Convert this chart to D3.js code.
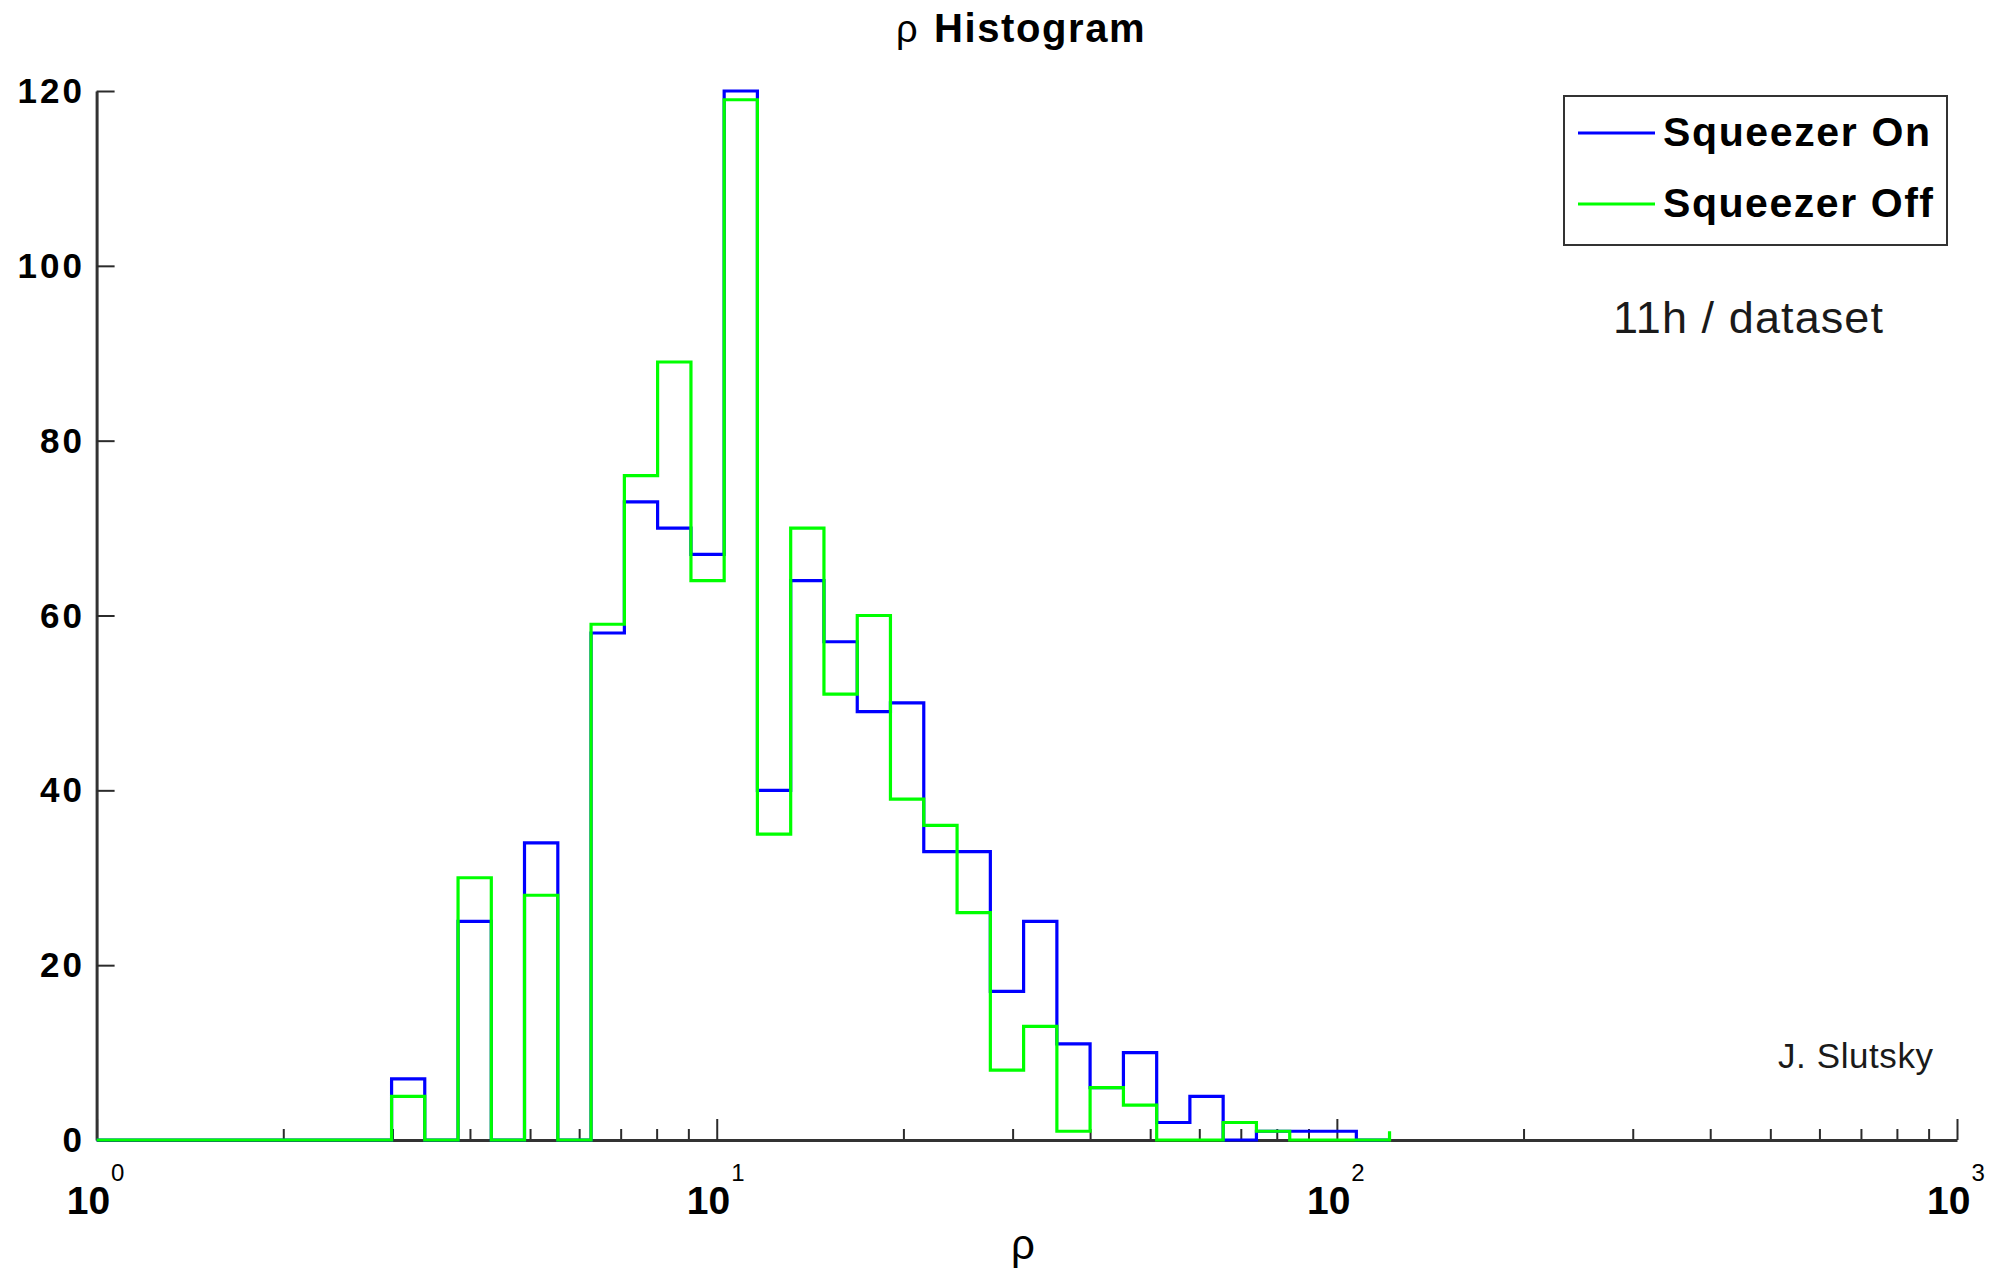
<!DOCTYPE html>
<html>
<head>
<meta charset="utf-8">
<script src="https://cdn.jsdelivr.net/npm/d3@7"></script>
<style>
  html, body { margin: 0; padding: 0; background: #fff; }
  svg { display: block; }
</style>
</head>
<body>
<svg id="chart" width="1993" height="1271"></svg>
<script>
// ---- data ----
const stairsStart = 1;   // stairs begin at rho = 1 with zero count
const binEdges = [2.99, 3.382, 3.827, 4.33, 4.898, 5.543, 6.271, 7.097, 8.029, 9.087,
  10.28, 11.63, 13.16, 14.89, 16.85, 19.06, 21.57, 24.41, 27.62, 31.25,
  35.36, 40.0, 45.27, 51.22, 57.94, 65.56, 74.18, 83.94, 94.96, 107.5, 121.6];
// counts per bin (30 bins); last entry is the stairs end level at the final edge
const squeezerOn  = [7, 0, 25, 0, 34, 0, 58, 73, 70, 67, 120, 40, 64, 57, 49, 50, 33, 33, 17, 25, 11, 6, 10, 2, 5, 0, 1, 1, 1, 0, 0];
const squeezerOff = [5, 0, 30, 0, 28, 0, 59, 76, 89, 64, 119, 35, 70, 51, 60, 39, 36, 26, 8, 13, 1, 6, 4, 0, 0, 2, 1, 0, 0, 0, 1];
const seriesNames = ["Squeezer On", "Squeezer Off"];
const seriesColors = ["#0000ff", "#00ff00"];
const yTicks = [0, 20, 40, 60, 80, 100, 120];
const xMajorTicks = [1, 10, 100, 1000];
const xTickExponents = ["0", "1", "2", "3"];
const titleSymbol = "ρ";
const titleWord = "Histogram";
const xLabel = "ρ";
const note1 = "11h / dataset";
const note2 = "J. Slutsky";

// ---- layout ----
const svg = d3.select("#chart");
const x = d3.scaleLog().domain([1, 1000]).range([96.6, 1957]);
const y = d3.scaleLinear().domain([0, 120]).range([1140, 91]);
const axisColor = "#2b2b2b";
const fontSans = "'Liberation Sans', Arial, Helvetica, sans-serif";

// minor ticks
const minorTicks = [];
for (let d = 1; d < 1000; d *= 10) for (let m = 2; m <= 9; m++) minorTicks.push(d * m);

const gxMinor = svg.append("g").attr("transform", `translate(0,${y(0)})`)
  .call(d3.axisBottom(x).tickValues(minorTicks).tickSize(-11).tickSizeOuter(0).tickFormat(""));
gxMinor.select(".domain").remove();
const gx = svg.append("g").attr("transform", `translate(0,${y(0)})`)
  .call(d3.axisBottom(x).tickValues(xMajorTicks).tickSize(-21).tickSizeOuter(0).tickFormat(""));
svg.selectAll("g .tick line").attr("stroke", axisColor).attr("stroke-width", 2);
gx.select(".domain").attr("stroke", "#333").attr("stroke-width", 3);

const gy = svg.append("g").attr("transform", `translate(${x(1)},0)`)
  .call(d3.axisLeft(y).tickValues(yTicks).tickSize(-18).tickSizeOuter(0).tickFormat(""));
gy.selectAll(".tick line").attr("stroke", axisColor).attr("stroke-width", 2);
gy.select(".domain").attr("stroke", "#333").attr("stroke-width", 3);

// y tick labels
svg.append("g").selectAll("text").data(yTicks).join("text")
  .attr("x", 85).attr("y", d => y(d) + 12)
  .attr("text-anchor", "end")
  .attr("font-family", fontSans).attr("font-weight", "bold")
  .attr("font-size", 35).attr("letter-spacing", 3)
  .attr("fill", "#000")
  .text(d => d);

// x tick labels: 10^n
const xl = svg.append("g");
xl.selectAll("text.base").data(xMajorTicks).join("text").attr("class", "base")
  .attr("x", d => x(d) + 13.5).attr("y", 1214)
  .attr("text-anchor", "end")
  .attr("font-family", fontSans).attr("font-weight", "bold")
  .attr("font-size", 39).attr("fill", "#000")
  .text("10");
xl.selectAll("text.exp").data(xMajorTicks).join("text").attr("class", "exp")
  .attr("x", d => x(d) + 14.5).attr("y", 1181)
  .attr("text-anchor", "start")
  .attr("font-family", fontSans)
  .attr("font-size", 24).attr("fill", "#000")
  .text((d, i) => xTickExponents[i]);

// stairs
const stairsX = [stairsStart, ...binEdges];
const stairLine = d3.line().x(d => x(d[0])).y(d => y(d[1])).curve(d3.curveStepAfter);
[squeezerOn, squeezerOff].forEach((counts, si) => {
  const pts = stairsX.map((xv, i) => [xv, i === 0 ? 0 : counts[i - 1]]);
  svg.append("path").datum(pts)
    .attr("d", stairLine)
    .attr("fill", "none")
    .attr("stroke", seriesColors[si])
    .attr("stroke-width", 3.2)
    .attr("stroke-linejoin", "miter");
});

// title
svg.append("text").attr("x", 896).attr("y", 42)
  .attr("font-family", fontSans).attr("font-size", 38).attr("fill", "#000")
  .text(titleSymbol);
svg.append("text").attr("x", 934).attr("y", 42)
  .attr("font-family", fontSans).attr("font-weight", "bold").attr("font-size", 40).attr("fill", "#000")
  .attr("letter-spacing", 1.6)
  .text(titleWord);

// x label
svg.append("text").attr("x", 1023).attr("y", 1259)
  .attr("text-anchor", "middle")
  .attr("font-family", fontSans).attr("font-size", 42).attr("fill", "#000")
  .text(xLabel);

// legend
const lg = svg.append("g");
lg.append("rect").attr("x", 1564).attr("y", 96).attr("width", 383).attr("height", 149)
  .attr("fill", "#fff").attr("stroke", "#333").attr("stroke-width", 2);
const legendRows = [133, 204];
seriesNames.forEach((name, i) => {
  lg.append("line").attr("x1", 1578).attr("x2", 1655)
    .attr("y1", legendRows[i]).attr("y2", legendRows[i])
    .attr("stroke", seriesColors[i]).attr("stroke-width", 3);
  lg.append("text").attr("x", 1663).attr("y", legendRows[i] + 13)
    .attr("font-family", fontSans).attr("font-weight", "bold").attr("font-size", 41)
    .attr("fill", "#000")
    .attr("textLength", i === 0 ? 267 : 270).attr("lengthAdjust", "spacing")
    .text(name);
});

// annotations
svg.append("text").attr("x", 1613).attr("y", 333)
  .attr("font-family", fontSans).attr("font-size", 45).attr("fill", "#1a1a1a")
  .attr("textLength", 270).attr("lengthAdjust", "spacing")
  .text(note1);
svg.append("text").attr("x", 1778).attr("y", 1068)
  .attr("font-family", fontSans).attr("font-size", 35).attr("fill", "#1a1a1a")
  .attr("textLength", 155).attr("lengthAdjust", "spacing")
  .text(note2);
</script>
</body>
</html>
